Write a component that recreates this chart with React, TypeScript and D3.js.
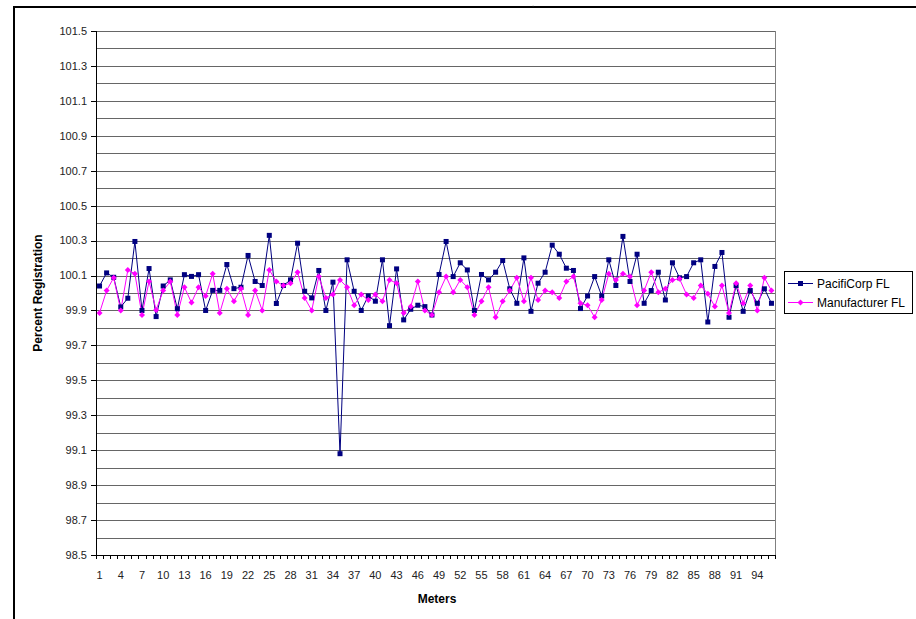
import React from "react";
import * as d3 from "d3";

const meters: number[] = Array.from({ length: 96 }, (_, i) => i + 1);

const pacifiCorp: number[] = [
  100.04, 100.115, 100.09, 99.92, 99.97, 100.295, 99.9, 100.14, 99.865, 100.04,
  100.075, 99.91, 100.105, 100.095, 100.105, 99.9, 100.015, 100.015, 100.163, 100.025,
  100.033, 100.215, 100.066, 100.043, 100.33, 99.94, 100.043, 100.075, 100.285, 100.01,
  99.972, 100.129, 99.9, 100.062, 99.08, 100.19, 100.01, 99.9, 99.983, 99.953,
  100.19, 99.813, 100.138, 99.846, 99.907, 99.93, 99.922, 99.874, 100.106, 100.295,
  100.094, 100.173, 100.132, 99.9, 100.106, 100.075, 100.119, 100.186, 100.024, 99.941,
  100.201, 99.895, 100.056, 100.119, 100.274, 100.222, 100.142, 100.129, 99.911, 99.983,
  100.094, 99.983, 100.19, 100.043, 100.324, 100.066, 100.222, 99.941, 100.014, 100.119,
  99.96, 100.173, 100.087, 100.094, 100.173, 100.19, 99.834, 100.152, 100.232, 99.861,
  100.043, 99.895, 100.014, 99.941, 100.024, 99.941,
];

const manufacturer: number[] = [
  99.886, 100.014, 100.087, 99.9, 100.132, 100.11, 99.874, 100.066, 99.903, 100.014,
  100.066, 99.874, 100.033, 99.945, 100.033, 99.983, 100.11, 99.886, 100.024, 99.953,
  100.024, 99.874, 100.014, 99.9, 100.132, 100.066, 100.043, 100.056, 100.119, 99.972,
  99.9, 100.094, 99.972, 99.991, 100.075, 100.033, 99.93, 99.991, 99.96, 99.991,
  99.953, 100.075, 100.056, 99.886, 99.922, 100.066, 99.9, 99.874, 100.004, 100.094,
  100.004, 100.075, 100.033, 99.874, 99.953, 100.033, 99.861, 99.953, 100.014, 100.087,
  99.953, 100.087, 99.96, 100.014, 100.004, 99.972, 100.066, 100.094, 99.941, 99.93,
  99.861, 99.96, 100.11, 100.075, 100.11, 100.094, 99.93, 100.014, 100.119, 100.004,
  100.024, 100.075, 100.081, 99.991, 99.972, 100.043, 99.995, 99.922, 100.043, 99.886,
  100.056, 99.941, 100.043, 99.9, 100.087, 100.014,
];

const yMajorTicks: number[] = [98.5, 98.7, 98.9, 99.1, 99.3, 99.5, 99.7, 99.9, 100.1, 100.3, 100.5, 100.7, 100.9, 101.1, 101.3, 101.5];
const yGridTicks: number[] = d3.range(0, 31).map((i) => +(98.5 + i * 0.1).toFixed(1));
const xLabelEvery = 3;

const seriesNames = ["PacifiCorp FL", "Manufacturer FL"];
const NAVY = "#000080";
const PINK = "#FF00FF";
const FONT = "'Liberation Sans', Arial, sans-serif";

export default function App() {
  const W = 916, H = 619;
  const left = 96, right = 775, top = 31, bottom = 555;
  const x = d3.scaleBand<number>().domain(meters).range([left, right]).padding(0);
  const y = d3.scaleLinear().domain([98.5, 101.5]).range([bottom, top]);
  const cx = (m: number) => (x(m) as number) + x.bandwidth() / 2;
  const line = d3.line<number>().x((_, i) => cx(meters[i])).y((v) => y(v));

  const diamond = (px: number, py: number, r: number) =>
    `M${px},${py - r}L${px + r},${py}L${px},${py + r}L${px - r},${py}Z`;

  return (
    <svg width={W} height={H} style={{ position: "absolute", left: 0, top: 0, background: "#fff" }} fontFamily={FONT}>
      <rect x={0} y={0} width={W} height={H} fill="#fff" />
      {/* chart area border (extends past the viewport right/bottom) */}
      <rect x={14} y={7} width={W + 20} height={H + 20} fill="none" stroke="#000" strokeWidth={2} />
      <text x={533} y={6} fontSize={6} fill="#666" textAnchor="middle">,</text>

      {/* gridlines */}
      {yGridTicks.map((t) => (
        <line key={"g" + t} x1={left} x2={right} y1={Math.round(y(t)) + 0.5} y2={Math.round(y(t)) + 0.5} stroke="#000" strokeOpacity={0.6} strokeWidth={1} />
      ))}
      {/* plot area right border */}
      <line x1={right + 0.5} x2={right + 0.5} y1={top} y2={bottom} stroke="#808080" strokeWidth={1} />

      {/* y axis */}
      <line x1={left + 0.5} x2={left + 0.5} y1={top} y2={bottom} stroke="#000" strokeWidth={1} />
      {yMajorTicks.map((t) => (
        <g key={"yt" + t}>
          <line x1={left - 5} x2={left} y1={Math.round(y(t)) + 0.5} y2={Math.round(y(t)) + 0.5} stroke="#000" />
          <text x={left - 9} y={y(t)} dy="0.35em" fontSize={11} textAnchor="end" fill="#222">
            {t.toFixed(1)}
          </text>
        </g>
      ))}

      {/* x axis */}
      <line x1={left} x2={right} y1={bottom + 0.5} y2={bottom + 0.5} stroke="#000" strokeWidth={1} />
      {meters.map((m) => (
        <line key={"xt" + m} x1={Math.round(x(m) as number) + 0.5} x2={Math.round(x(m) as number) + 0.5} y1={bottom} y2={bottom + 4} stroke="#000" />
      ))}
      <line x1={right + 0.5} x2={right + 0.5} y1={bottom} y2={bottom + 4} stroke="#000" />
      {meters.filter((m) => (m - 1) % xLabelEvery === 0).map((m) => (
        <text key={"xl" + m} x={cx(m)} y={579} fontSize={11} textAnchor="middle" fill="#222">
          {m}
        </text>
      ))}

      {/* axis titles */}
      <text x={437} y={603} fontSize={12} fontWeight="bold" textAnchor="middle" fill="#000">Meters</text>
      <text transform={`translate(42,${(top + bottom) / 2}) rotate(-90)`} fontSize={12} fontWeight="bold" textAnchor="middle" fill="#000">
        Percent Registration
      </text>

      {/* series */}
      <path d={line(pacifiCorp) || ""} fill="none" stroke={NAVY} strokeWidth={1} />
      <path d={line(manufacturer) || ""} fill="none" stroke={PINK} strokeWidth={1} />
      {pacifiCorp.map((v, i) => (
        <rect key={"p" + i} x={cx(meters[i]) - 2.5} y={y(v) - 2.5} width={5} height={5} fill={NAVY} />
      ))}
      {manufacturer.map((v, i) => (
        <path key={"m" + i} d={diamond(cx(meters[i]), y(v), 3)} fill={PINK} />
      ))}

      {/* legend */}
      <rect x={784.5} y={271.5} width={128} height={42} fill="#fff" stroke="#000" strokeWidth={1} />
      <line x1={788} x2={813} y1={283.5} y2={283.5} stroke={NAVY} />
      <rect x={798} y={281} width={5} height={5} fill={NAVY} />
      <text x={817} y={283.5} dy="0.35em" fontSize={12} fill="#000">{seriesNames[0]}</text>
      <line x1={788} x2={813} y1={302.5} y2={302.5} stroke={PINK} />
      <path d={diamond(800.5, 302.5, 3)} fill={PINK} />
      <text x={817} y={302.5} dy="0.35em" fontSize={12} fill="#000">{seriesNames[1]}</text>
    </svg>
  );
}
